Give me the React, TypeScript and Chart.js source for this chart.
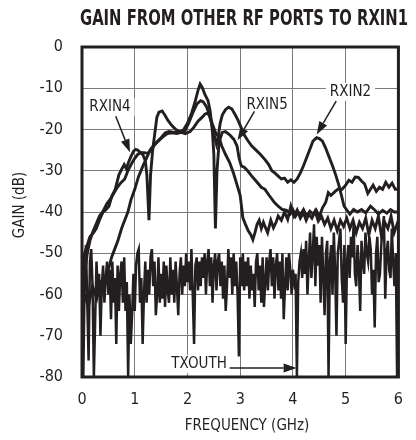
import React, { useEffect, useRef } from 'react';
import { Chart, registerables } from 'chart.js';

Chart.register(...registerables);

const TITLE = 'GAIN FROM OTHER RF PORTS TO RXIN1';
const X_TITLE = 'FREQUENCY (GHz)';
const Y_TITLE = 'GAIN (dB)';
const X_TICKS = [0, 1, 2, 3, 4, 5, 6];
const Y_TICKS = [0, -10, -20, -30, -40, -50, -60, -70, -80];

const RXIN4_FREQ = [0.02, 0.05, 0.1, 0.15, 0.22, 0.27, 0.33, 0.4, 0.45, 0.51, 0.57, 0.63, 0.7, 0.75, 0.8, 0.84, 0.88, 0.93, 0.98, 1.02, 1.06, 1.1, 1.15, 1.2, 1.23, 1.27, 1.3, 1.34, 1.38, 1.42, 1.46, 1.52, 1.57, 1.63, 1.7, 1.78, 1.85, 1.92, 2.0, 2.08, 2.15, 2.2, 2.24, 2.28, 2.33, 2.39, 2.43, 2.47, 2.5, 2.53, 2.56, 2.6, 2.66, 2.72, 2.8, 2.88, 2.94, 2.98, 3.02, 3.08, 3.14, 3.22, 3.3, 3.4, 3.47, 3.55, 3.65, 3.72, 3.8, 3.88, 3.95, 4.0, 4.05, 4.1, 4.15, 4.2, 4.26, 4.32, 4.38, 4.44, 4.5, 4.56, 4.62, 4.67, 4.72, 4.8, 4.87, 4.93, 5.0, 5.06, 5.12, 5.18, 5.24, 5.3, 5.36, 5.42, 5.47, 5.52, 5.58, 5.64, 5.7, 5.76, 5.82, 5.88, 5.94, 6.0];
const RXIN4_GAIN = [-56, -50, -48, -46, -45, -44, -42, -40, -39.5, -38.6, -36, -34.5, -31, -29.7, -28.5, -29.5, -28, -26.5, -25.2, -24.8, -25, -25.5, -26, -27.5, -31, -42, -31, -25, -21, -17, -15.8, -15.5, -16.5, -17.8, -19, -20, -20.5, -20.2, -18.5, -16, -13, -10.5, -9, -9.8, -11.5, -13, -15.5, -20, -26, -44, -30, -23, -20.7, -20.5, -21.3, -22.4, -24, -27, -28.8, -29.2, -30, -31.3, -32.5, -34, -34.5, -36, -37.7, -38.6, -39.4, -39.6, -40.5, -39.5, -41, -40, -40.5, -39.4, -41, -39.8, -40.5, -39.5, -41.1, -39, -37.7, -35.3, -36, -35, -34.3, -34.5, -33.5, -32.3, -32.8, -31.5, -31.6, -32.5, -33.2, -35.5, -34.5, -33.5, -35, -34, -34.5, -32.8, -34, -33, -34.5, -34.5];

const RXIN5_FREQ = [0.02, 0.06, 0.1, 0.15, 0.2, 0.25, 0.33, 0.4, 0.47, 0.53, 0.6, 0.67, 0.73, 0.81, 0.87, 0.93, 1.0, 1.06, 1.12, 1.18, 1.25, 1.3, 1.36, 1.42, 1.5, 1.58, 1.65, 1.75, 1.85, 1.95, 2.02, 2.1, 2.18, 2.25, 2.3, 2.36, 2.42, 2.48, 2.54, 2.6, 2.65, 2.72, 2.8, 2.87, 2.93, 3.0, 3.05, 3.1, 3.15, 3.2, 3.24, 3.28, 3.32, 3.36, 3.4, 3.44, 3.47, 3.52, 3.58, 3.63, 3.68, 3.72, 3.78, 3.84, 3.9, 3.96, 4.02, 4.08, 4.14, 4.2, 4.25, 4.3, 4.36, 4.42, 4.48, 4.54, 4.6, 4.66, 4.72, 4.78, 4.84, 4.9, 4.96, 5.02, 5.08, 5.14, 5.2, 5.26, 5.32, 5.38, 5.44, 5.5, 5.56, 5.62, 5.68, 5.74, 5.8, 5.86, 5.92, 6.0];
const RXIN5_GAIN = [-60, -54, -50, -47, -45, -43.5, -41, -39.8, -38, -37, -35.5, -34, -33, -32, -30, -28.5, -27, -26, -25.6, -25.6, -25.8, -25, -24, -23, -22, -20.8, -20.5, -20.7, -20.6, -20.4, -18.5, -16, -13.8, -13, -13.3, -14.5, -16.5, -19, -21, -21.9, -24, -26, -28, -30.5, -33, -36, -41.4, -43, -44.5, -45.5, -46.7, -45, -43, -42, -44, -42.5, -43.5, -45, -42, -43.8, -42.5, -41, -42, -40, -41.8, -38.6, -41, -39.5, -41.5, -40.2, -42, -40.5, -41.5, -39.8, -42.2, -41, -43, -41.5, -44, -42, -44.5, -42, -43.5, -41.5, -44, -42, -45, -42.5, -44, -41.5, -45.5, -42, -44, -41, -46, -42.5, -44, -41, -45, -42];

const RXIN2_FREQ = [0.05, 0.12, 0.2, 0.28, 0.35, 0.42, 0.5, 0.56, 0.62, 0.68, 0.75, 0.81, 0.87, 0.93, 1.0, 1.07, 1.15, 1.22, 1.3, 1.38, 1.48, 1.56, 1.62, 1.7, 1.8, 1.88, 1.96, 2.05, 2.12, 2.2, 2.28, 2.33, 2.38, 2.42, 2.46, 2.5, 2.55, 2.58, 2.62, 2.66, 2.72, 2.78, 2.84, 2.9, 2.96, 3.02, 3.08, 3.15, 3.22, 3.3, 3.38, 3.47, 3.54, 3.6, 3.66, 3.72, 3.78, 3.84, 3.9, 3.96, 4.02, 4.08, 4.14, 4.2, 4.27, 4.33, 4.38, 4.45, 4.5, 4.56, 4.62, 4.68, 4.75, 4.81, 4.87, 4.92, 4.97, 5.02, 5.08, 5.15, 5.22, 5.3, 5.38, 5.47, 5.55, 5.62, 5.7, 5.78, 5.85, 5.92, 6.0];
const RXIN2_GAIN = [-60, -63, -58, -61, -57, -58, -54, -51, -49, -47, -44, -42, -40, -37, -34.5, -31.5, -29, -27, -24.8, -23.6, -22.4, -21.5, -21, -20.8, -21, -20.7, -21, -20.5, -19.5, -18, -17, -16.3, -16, -16.8, -18.7, -21, -23.6, -22, -18.5, -16.5, -15.2, -14.6, -15, -16.3, -17.8, -19.6, -21.4, -22.8, -24, -25, -26, -27.3, -28.5, -30, -30.6, -31.3, -32, -31.8, -32.8, -32.2, -32.8, -32, -30.5, -28.8, -26.5, -24.5, -22.8, -22, -22.2, -22.8, -24.5, -26.5, -28.8, -31, -33.5, -36, -38.6, -39.5, -40.5, -39.4, -40, -39.4, -40.2, -38.6, -39.5, -40.5, -39.6, -40.3, -39.4, -40, -40];

const TXOUTH_FREQ = [
  0, 0.025, 0.05, 0.075, 0.1, 0.125, 0.15, 0.175, 0.2, 0.225,
  0.25, 0.275, 0.3, 0.325, 0.35, 0.375, 0.4, 0.425, 0.45, 0.475,
  0.5, 0.525, 0.55, 0.575, 0.6, 0.625, 0.65, 0.675, 0.7, 0.725,
  0.75, 0.775, 0.8, 0.825, 0.85, 0.875, 0.9, 0.925, 0.95, 0.975,
  1, 1.025, 1.05, 1.075, 1.1, 1.125, 1.15, 1.175, 1.2, 1.225,
  1.25, 1.275, 1.3, 1.325, 1.35, 1.375, 1.4, 1.425, 1.45, 1.475,
  1.5, 1.525, 1.55, 1.575, 1.6, 1.625, 1.65, 1.675, 1.7, 1.725,
  1.75, 1.775, 1.8, 1.825, 1.85, 1.875, 1.9, 1.925, 1.95, 1.975,
  2, 2.025, 2.05, 2.075, 2.1, 2.125, 2.15, 2.175, 2.2, 2.225,
  2.25, 2.275, 2.3, 2.325, 2.35, 2.375, 2.4, 2.425, 2.45, 2.475,
  2.5, 2.525, 2.55, 2.575, 2.6, 2.625, 2.65, 2.675, 2.7, 2.725,
  2.75, 2.775, 2.8, 2.825, 2.85, 2.875, 2.9, 2.925, 2.95, 2.975,
  3, 3.025, 3.05, 3.075, 3.1, 3.125, 3.15, 3.175, 3.2, 3.225,
  3.25, 3.275, 3.3, 3.325, 3.35, 3.375, 3.4, 3.425, 3.45, 3.475,
  3.5, 3.525, 3.55, 3.575, 3.6, 3.625, 3.65, 3.675, 3.7, 3.725,
  3.75, 3.775, 3.8, 3.825, 3.85, 3.875, 3.9, 3.925, 3.95, 3.975,
  4, 4.025, 4.05, 4.075, 4.1, 4.125, 4.15, 4.175, 4.2, 4.225,
  4.25, 4.275, 4.3, 4.325, 4.35, 4.375, 4.4, 4.425, 4.45, 4.475,
  4.5, 4.525, 4.55, 4.575, 4.6, 4.625, 4.65, 4.675, 4.7, 4.725,
  4.75, 4.775, 4.8, 4.825, 4.85, 4.875, 4.9, 4.925, 4.95, 4.975,
  5, 5.025, 5.05, 5.075, 5.1, 5.125, 5.15, 5.175, 5.2, 5.225,
  5.25, 5.275, 5.3, 5.325, 5.35, 5.375, 5.4, 5.425, 5.45, 5.475,
  5.5, 5.525, 5.55, 5.575, 5.6, 5.625, 5.65, 5.675, 5.7, 5.725,
  5.75, 5.775, 5.8, 5.825, 5.85, 5.875, 5.9, 5.925, 5.95, 5.975,
  6,
];
const TXOUTH_GAIN = [
  -50, -80, -56, -48, -62, -76, -52, -49, -58, -80,
  -66, -52, -60, -55, -70, -58, -53, -62, -56, -52,
  -60, -54, -66, -52, -62, -56, -72, -53, -64, -55,
  -52, -62, -51, -64, -57, -80, -60, -72, -65, -55,
  -64, -53, -50, -49, -62, -56, -72, -60, -52, -62,
  -54, -60, -51, -49, -58, -52, -65, -60, -51, -62,
  -55, -61, -52, -63, -53, -59, -62, -51, -60, -54,
  -62, -52, -58, -65, -55, -51, -60, -53, -58, -50,
  -57, -52, -59, -49, -60, -72, -53, -51, -59, -52,
  -58, -51, -56, -50, -60, -52, -49, -58, -51, -62,
  -53, -50, -59, -52, -50, -58, -52, -61, -53, -64,
  -58, -49, -56, -51, -60, -50, -58, -52, -60, -75,
  -51, -58, -50, -59, -52, -58, -51, -61, -53, -59,
  -55, -63, -52, -50, -59, -53, -62, -51, -63, -57,
  -51, -59, -52, -49, -58, -51, -61, -53, -50, -59,
  -52, -61, -50, -66, -58, -51, -59, -50, -54, -60,
  -54, -57, -55, -80, -57, -52, -50, -56, -49, -55,
  -47, -60, -52, -45, -56, -50, -43, -58, -46, -53,
  -48, -62, -46, -55, -65, -50, -47, -80, -52, -48,
  -60, -45, -54, -70, -50, -47, -44, -56, -62, -48,
  -72, -52, -48, -56, -46, -51, -43, -55, -58, -48,
  -53, -64, -47, -52, -55, -45, -50, -52, -46, -49,
  -60, -54, -68, -50, -46, -57, -55, -48, -44, -41,
  -61, -50, -47, -54, -56, -44, -52, -58, -50, -80,
  -48,
];

const LABEL_TEXT = ['RXIN4', 'RXIN5', 'RXIN2', 'TXOUTH'];
const LABEL_FREQ = [0.53, 3.51, 5.09, 2.22];
const LABEL_GAIN = [-14.6, -14.1, -10.9, -76.9];
const ARROW_FROM_FREQ = [0.64, 3.27, 4.82, 2.8];
const ARROW_FROM_GAIN = [-16.8, -15.6, -13.1, -77.8];
const ARROW_TO_FREQ = [0.91, 2.95, 4.45, 4.07];
const ARROW_TO_GAIN = [-25.5, -22.6, -21.2, -77.8];

const INK = '#231f20';
const GRID = '#7a7a7a';
const NARROW = '"Liberation Sans Narrow", "DejaVu Sans Condensed", "Liberation Sans", sans-serif';

const pts = (xs: number[], ys: number[]) => xs.map((x, i) => ({ x, y: ys[i] }));

const decor = {
  id: 'decor',
  afterDatasetsDraw(chart: any) {
    const { ctx, chartArea: a, scales } = chart;
    const xs = scales.x;
    const ys = scales.y;
    ctx.save();
    ctx.strokeStyle = INK;
    ctx.lineWidth = 3;
    ctx.strokeRect(a.left, a.top, a.right - a.left, a.bottom - a.top);

    ctx.font = `15px ${NARROW}`;
    ctx.textAlign = 'center';
    ctx.textBaseline = 'middle';
    LABEL_TEXT.forEach((t, i) => {
      const px = xs.getPixelForValue(LABEL_FREQ[i]);
      const py = ys.getPixelForValue(LABEL_GAIN[i]);
      const w = ctx.measureText(t).width;
      ctx.fillStyle = '#ffffff';
      ctx.fillRect(px - w / 2 - 4, py - 9, w + 8, 18);
      ctx.fillStyle = INK;
      ctx.fillText(t, px, py);
    });

    ctx.strokeStyle = INK;
    ctx.fillStyle = INK;
    ctx.lineWidth = 1.5;
    ARROW_FROM_FREQ.forEach((_, i) => {
      const x1 = xs.getPixelForValue(ARROW_FROM_FREQ[i]);
      const y1 = ys.getPixelForValue(ARROW_FROM_GAIN[i]);
      const x2 = xs.getPixelForValue(ARROW_TO_FREQ[i]);
      const y2 = ys.getPixelForValue(ARROW_TO_GAIN[i]);
      const ang = Math.atan2(y2 - y1, x2 - x1);
      const len = 13;
      const hw = 4.5;
      const bx = x2 - len * Math.cos(ang);
      const by = y2 - len * Math.sin(ang);
      ctx.beginPath();
      ctx.moveTo(x1, y1);
      ctx.lineTo(bx, by);
      ctx.stroke();
      ctx.beginPath();
      ctx.moveTo(x2, y2);
      ctx.lineTo(bx + hw * Math.sin(ang), by - hw * Math.cos(ang));
      ctx.lineTo(bx - hw * Math.sin(ang), by + hw * Math.cos(ang));
      ctx.closePath();
      ctx.fill();
    });
    ctx.restore();
  },
  afterDraw(chart: any) {
    const { ctx } = chart;
    ctx.save();
    ctx.fillStyle = INK;
    ctx.font = `bold 21px ${NARROW}`;
    ctx.textAlign = 'center';
    ctx.textBaseline = 'alphabetic';
    const w = ctx.measureText(TITLE).width;
    ctx.save();
    ctx.translate(244, 25);
    ctx.scale(328 / w, 1);
    ctx.fillText(TITLE, 0, 0);
    ctx.restore();
    ctx.font = `15px ${NARROW}`;
    ctx.fillText(X_TITLE, 247, 430);
    ctx.save();
    ctx.translate(24, 205);
    ctx.rotate(-Math.PI / 2);
    ctx.fillText(Y_TITLE, 0, 0);
    ctx.restore();
    ctx.restore();
  },
};

export default function App() {
  const ref = useRef<HTMLCanvasElement | null>(null);
  useEffect(() => {
    if (!ref.current) return;
    const line = (xs: number[], ys: number[], width: number) => ({
      data: pts(xs, ys),
      borderColor: INK,
      borderWidth: width,
      pointRadius: 0,
      fill: false,
      tension: 0,
      clip: 0,
    });
    const chart = new Chart(ref.current, {
      type: 'line',
      data: {
        datasets: [
          { label: 'TXOUTH', ...line(TXOUTH_FREQ, TXOUTH_GAIN, 2.5) },
          { label: 'RXIN2', ...line(RXIN2_FREQ, RXIN2_GAIN, 2.9) },
          { label: 'RXIN5', ...line(RXIN5_FREQ, RXIN5_GAIN, 2.9) },
          { label: 'RXIN4', ...line(RXIN4_FREQ, RXIN4_GAIN, 2.9) },
        ],
      },
      options: {
        responsive: false,
        animation: false,
        devicePixelRatio: 1,
        layout: { padding: { top: 47, right: 4, left: 0, bottom: 0 } },
        plugins: {
          legend: { display: false },
          tooltip: { enabled: false },
          title: { display: false },
        },
        scales: {
          x: {
            type: 'linear',
            min: 0,
            max: 6,
            afterBuildTicks: (s: any) => {
              s.ticks = X_TICKS.map((v) => ({ value: v }));
            },
            afterFit: (s: any) => {
              s.height = 63;
            },
            ticks: {
              autoSkip: false,
              maxRotation: 0,
              padding: 13,
              color: INK,
              font: { family: NARROW, size: 16 },
              callback: (v: any) => String(v),
            },
            grid: { color: GRID, lineWidth: 1, drawTicks: false },
            border: { display: false },
          },
          y: {
            type: 'linear',
            min: -80,
            max: 0,
            afterBuildTicks: (s: any) => {
              s.ticks = Y_TICKS.map((v) => ({ value: v }));
            },
            afterFit: (s: any) => {
              s.width = 82;
            },
            ticks: {
              autoSkip: false,
              padding: 19,
              color: INK,
              font: { family: NARROW, size: 16 },
              callback: (v: any) => String(v),
            },
            grid: { color: GRID, lineWidth: 1, drawTicks: false },
            border: { display: false },
          },
        },
      },
      plugins: [decor],
    } as any);
    return () => chart.destroy();
  }, []);
  return (
    <div style={{ position: 'fixed', left: 0, top: 0, width: 416, height: 440, background: '#fff' }}>
      <canvas ref={ref} width={416} height={440} style={{ display: 'block', width: 416, height: 440 }} />
    </div>
  );
}
